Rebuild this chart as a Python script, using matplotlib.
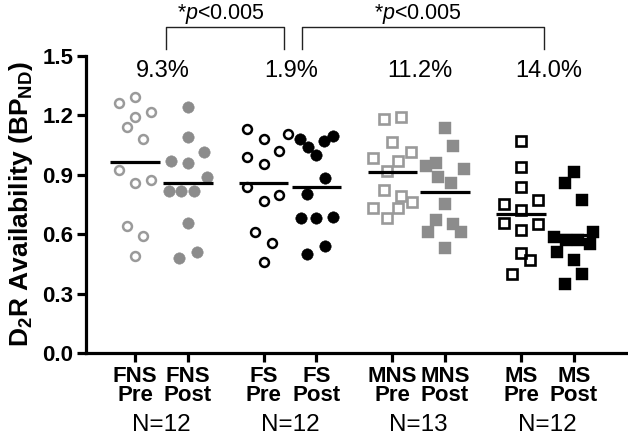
import matplotlib
matplotlib.use('Agg')
import matplotlib.pyplot as plt
import numpy as np

plt.rcParams['font.family'] = ['Liberation Sans', 'DejaVu Sans']
plt.rcParams['mathtext.fontset'] = 'custom'
plt.rcParams['mathtext.rm'] = 'Liberation Sans'
plt.rcParams['mathtext.it'] = 'Liberation Sans:italic'
plt.rcParams['mathtext.bf'] = 'Liberation Sans:bold'

# groups / labels
groups = ['FNS', 'FS', 'MNS', 'MS']
n_labels = ['N=12', 'N=12', 'N=13', 'N=12']
pct_labels = ['9.3%', '1.9%', '11.2%', '14.0%']
tick_labels = ['FNS\nPre', 'FNS\nPost', 'FS\nPre', 'FS\nPost',
               'MNS\nPre', 'MNS\nPost', 'MS\nPre', 'MS\nPost']

# D2R availability values, with the horizontal scatter offsets
fns_pre = [1.264, 1.295, 1.191, 1.215, 1.142, 1.081, 0.922, 0.861, 0.873, 0.641, 0.590, 0.488]
fns_pre_dx = [-0.31, 0, 0, 0.31, -0.16, 0.16, -0.31, 0, 0.31, -0.16, 0.16, 0]
fns_post = [1.244, 1.092, 1.013, 0.971, 0.962, 0.891, 0.820, 0.820, 0.820, 0.657, 0.508, 0.478]
fns_post_dx = [0, 0, 0.31, -0.31, 0, 0.36, -0.36, -0.12, 0.12, 0, 0.17, -0.17]

fs_pre = [1.132, 1.081, 1.107, 1.020, 0.990, 0.954, 0.840, 0.766, 0.798, 0.609, 0.558, 0.459]
fs_pre_dx = [-0.32, 0, 0.46, 0.30, -0.32, 0, -0.32, 0, 0.30, -0.16, 0.16, 0]
fs_post = [1.081, 1.041, 1.002, 1.073, 1.095, 0.883, 0.802, 0.683, 0.683, 0.688, 0.498, 0.540]
fs_post_dx = [-0.32, -0.15, 0, 0.15, 0.32, 0.16, -0.17, -0.30, 0, 0.31, -0.17, 0.16]

mns_pre = [1.183, 1.193, 1.064, 0.985, 0.971, 1.013, 0.917, 0.824, 0.793, 0.764, 0.734, 0.731, 0.680]
mns_pre_dx = [-0.165, 0.17, 0, -0.37, 0.11, 0.36, -0.11, -0.165, 0.17, 0.37, -0.37, 0.11, -0.11]
mns_post = [1.134, 1.044, 0.942, 0.962, 0.930, 0.891, 0.861, 0.751, 0.671, 0.651, 0.609, 0.609, 0.530]
mns_post_dx = [0, 0.16, -0.37, -0.18, 0.36, -0.13, 0.11, 0, -0.18, 0.16, -0.32, 0.30, 0]

ms_pre = [1.073, 0.939, 0.840, 0.751, 0.773, 0.722, 0.657, 0.649, 0.620, 0.507, 0.468, 0.400]
ms_pre_dx = [0, 0, 0, -0.32, 0.32, 0, -0.32, 0.32, 0, 0, 0.17, -0.17]
ms_post = [0.912, 0.861, 0.773, 0.586, 0.569, 0.569, 0.553, 0.609, 0.510, 0.468, 0.400, 0.349]
ms_post_dx = [0, -0.17, 0.16, -0.37, -0.14, 0.08, 0.30, 0.36, -0.32, 0, 0.16, -0.17]

series = [(fns_pre, fns_pre_dx), (fns_post, fns_post_dx),
          (fs_pre, fs_pre_dx), (fs_post, fs_post_dx),
          (mns_pre, mns_pre_dx), (mns_post, mns_post_dx),
          (ms_pre, ms_pre_dx), (ms_post, ms_post_dx)]

gray_open = '#9a9a9a'
gray_fill = '#8c8c8c'
# marker, edge color, face color, size, edge width
styles = [('o', gray_open, 'none', 6.4, 1.8), ('o', gray_fill, gray_fill, 8.2, 0.4),
          ('o', 'black', 'none', 6.4, 1.8), ('o', 'black', 'black', 8.2, 0.4),
          ('s', gray_open, 'none', 7.6, 1.9), ('s', gray_fill, gray_fill, 9.0, 0.3),
          ('s', 'black', 'none', 7.6, 1.9), ('s', 'black', 'black', 9.0, 0.3)]

base = np.array([1, 3.44, 5.88, 8.32])
pos = np.ravel(np.column_stack([base, base + 1]))
centers = base + 0.5

fig = plt.figure(figsize=(6.28, 4.38), dpi=100)
ax = fig.add_axes([86/628, 85/438, 542/628, 297/438])

for i, (vals, dx) in enumerate(series):
    m, ec, fc, ms, mew = styles[i]
    x = pos[i] + np.array(dx)
    ax.plot(x, vals, linestyle='none', marker=m, mec=ec, mfc=fc, ms=ms, mew=mew,
            zorder=2, clip_on=False)
    mean = np.mean(vals)
    ax.plot([pos[i] - 0.47, pos[i] + 0.47], [mean, mean], color='black', lw=2.3,
            zorder=3, solid_capstyle='butt')

ax.set_xlim(0.07, 10.35)
ax.set_ylim(0, 1.5)
yt = np.arange(0, 1.51, 0.3)
ax.set_yticks(yt)
ax.set_yticklabels(['%.1f' % v for v in yt], fontweight='bold', fontsize=16)
ax.set_xticks(pos)
ax.set_xticklabels(tick_labels, fontweight='bold', fontsize=16, linespacing=0.92)
for sp in ['top', 'right']:
    ax.spines[sp].set_visible(False)
for sp in ['left', 'bottom']:
    ax.spines[sp].set_linewidth(2.3)
ax.tick_params(axis='both', width=2.3, length=6.5, pad=2.5)

ax.set_ylabel(r'D$_\mathbf{2}$R Availability (BP$_\mathbf{ND}$)', fontweight='bold', fontsize=19)
ax.yaxis.set_label_coords(-0.095, 0.5)

for c, n in zip(centers, n_labels):
    ax.text(c, -0.262, n, transform=ax.get_xaxis_transform(), ha='center', va='baseline',
            fontsize=17.5)
for c, p in zip(centers, pct_labels):
    ax.text(c + 0.03, 1.393, p, ha='center', va='baseline', fontsize=17)

# significance brackets
brackets = [(1.58, 3.83, 2.62), (4.16, 8.75, 6.36)]
for x0, x1, xt in brackets:
    ax.plot([x0, x0, x1, x1], [1.535, 1.646, 1.646, 1.535], color='#222222', lw=1.0,
            clip_on=False)
    ax.text(xt, 1.685, r'*$p$<0.005', ha='center', va='baseline', fontsize=15.5, clip_on=False)

fig.savefig('out.png', dpi=100)
